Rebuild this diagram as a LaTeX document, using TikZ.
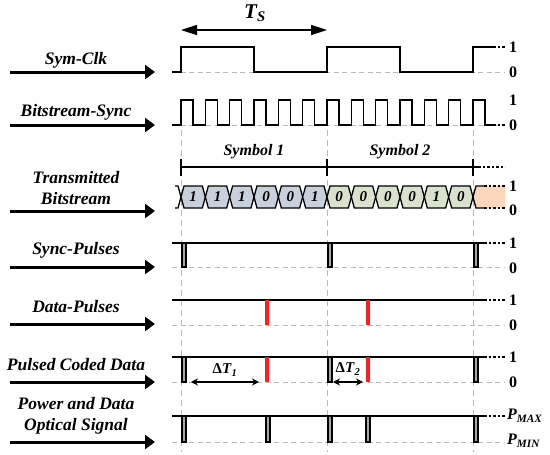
\documentclass[tikz,border=0pt]{standalone}
\usepackage{fontspec}
\setmainfont{Liberation Serif}
\usetikzlibrary{positioning, arrows.meta, calc}

\definecolor{symone}{RGB}{200,208,220}
\definecolor{symtwo}{RGB}{216,226,204}
\definecolor{symnext}{RGB}{251,213,188}
\definecolor{pulsered}{RGB}{255,30,30}

\begin{document}
\begin{tikzpicture}[
    x=1pt, y=-1pt,
    wave/.style={line width=1.6pt},
    tail/.style={line width=1.6pt, dash pattern=on 2.5pt off 2pt},
    zeroline/.style={gray!55, line width=0.9pt, dash pattern=on 5pt off 3.5pt},
    guide/.style={gray!55, line width=0.9pt, dash pattern=on 6pt off 4pt},
    inarrow/.style={-{Triangle[length=10pt, width=14pt]}, line width=3pt},
    tsarrow/.style={{Triangle[length=16pt, width=10pt]}-{Triangle[length=16pt, width=10pt]}, line width=1.5pt},
    dtarrow/.style={{Stealth[length=7pt, width=7pt]}-{Stealth[length=7pt, width=7pt]}, line width=1.4pt},
    sigtext/.style={font=\fontsize{17.5}{21}\selectfont\bfseries\itshape, align=center},
    symtext/.style={font=\fontsize{16}{18}\selectfont\bfseries\itshape},
    levtext/.style={font=\fontsize{16}{18}\selectfont\bfseries, anchor=west, inner sep=0pt},
    bit/.style={font=\fontsize{15}{17}\selectfont\bfseries\itshape},
    hexbit/.style={line width=1.3pt, line join=miter},
    pulse/.style={draw=black, fill=gray!70, line width=1.2pt},
    redpulse/.style={pulsered, line width=3.5pt},
]
\useasboundingbox (0,0) rectangle (550,455);

\def\bw{24.333}

% Input labels and arrows
\foreach \n/\t/\ly/\ay in {clk/Sym-Clk/60/72, sync/Bitstream-Sync/112/125,
    bits/{Transmitted\\Bitstream}/188/211, spulse/Sync-Pulses/250/267,
    dpulse/Data-Pulses/307/324, coded/Pulsed Coded Data/365/382,
    optic/{Power and Data\\Optical Signal}/416/442}
{
    \node[sigtext] (lbl-\n) at (76,\ly) {\t};
    \coordinate (in-\n) at (10,\ay);
    \coordinate (out-\n) at (155,\ay);
    \draw[inarrow] (in-\n) -- (out-\n);
}

% Symbol period
\coordinate (ts-a) at (181,30);
\coordinate (ts-b) at (327,30);
\draw[tsarrow] (ts-a) -- (ts-b);
\node[font=\fontsize{21}{23}\selectfont\bfseries\itshape] (ts) at (255,13) {T\textsubscript{S}};

% Guides
\foreach \x in {181,327,473} \draw[guide] (\x,130) -- (\x,452);

% Sym-Clk
\draw[zeroline] (172,72) -- (505,72);
\draw[wave] (172,72) -- (181,72) -- (181,47) -- (254,47) -- (254,72) -- (327,72) -- (327,47)
    -- (400,47) -- (400,72) -- (473,72) -- (473,47) -- (493,47);
\draw[tail] (493,47) -- (505,47);
\node[levtext] (one-clk) at (509,47) {1};
\node[levtext] (zero-clk) at (509,72) {0};

% Bitstream-Sync
\draw[zeroline] (172,125) -- (505,125);
\draw[wave] (172,125) foreach \k in {0,...,12} {
    -- ({181+\k*\bw},125) -- ({181+\k*\bw},100) -- ({193+\k*\bw},100) -- ({193+\k*\bw},125)
} -- (493,125);
\draw[tail] (493,125) -- (505,125);
\node[levtext] (one-sync) at (509,100) {1};
\node[levtext] (zero-sync) at (509,125) {0};

% Symbol bracket
\draw[line width=1.2pt] (181,167) -- (478,167);
\draw[tail, line width=1.2pt] (478,167) -- (505,167);
\foreach \x in {181,327,473} \draw[line width=1.2pt] (\x,159) -- (\x,176);
\node[symtext] (sym1) at (254,152) {Symbol 1};
\node[symtext] (sym2) at (400,152) {Symbol 2};

% Transmitted bitstream
\fill[symnext] (473,197) -- (476,186) -- (505,186) -- (505,208) -- (476,208) -- cycle;
\draw[hexbit] (175,186) -- (178,186) -- (181,197) -- (178,208) -- (175,208);
\foreach \b [count=\i from 0] in {1,1,1,0,0,1,0,0,0,0,1,0} {
    \pgfmathsetmacro\xa{181+\i*\bw}
    \pgfmathsetmacro\xb{\xa+\bw}
    \ifnum\i<6 \def\hc{symone}\else\def\hc{symtwo}\fi
    \draw[hexbit, fill=\hc] (\xa,197) -- ({\xa+3},186) -- ({\xb-3},186) -- (\xb,197)
        -- ({\xb-3},208) -- ({\xa+3},208) -- cycle;
    \node[bit] (bit-\i) at ({(\xa+\xb)/2},197) {\b};
}
\draw[hexbit] (484,186) -- (476,186) -- (473,197) -- (476,208) -- (484,208);
\draw[tail] (484,186) -- (505,186);
\draw[tail] (484,208) -- (505,208);
\node[levtext] (one-bits) at (509,186) {1};
\node[levtext] (zero-bits) at (509,210) {0};

% Sync-Pulses
\draw[zeroline] (172,267) -- (505,267);
\draw[wave] (172,243) -- (484,243);
\draw[tail] (484,243) -- (505,243);
\foreach \x in {182,328,474} \draw[pulse] (\x,243) rectangle ({\x+4},267);
\node[levtext] (one-spulse) at (509,243) {1};
\node[levtext] (zero-spulse) at (509,268) {0};

% Data-Pulses
\draw[zeroline] (172,325) -- (505,325);
\draw[wave] (172,300) -- (484,300);
\draw[tail] (484,300) -- (505,300);
\foreach \x in {267,368} \draw[redpulse] (\x,300) -- (\x,325);
\node[levtext] (one-dpulse) at (509,300) {1};
\node[levtext] (zero-dpulse) at (509,325) {0};

% Pulsed Coded Data
\draw[zeroline] (172,382) -- (505,382);
\draw[wave] (172,357) -- (484,357);
\draw[tail] (484,357) -- (505,357);
\foreach \x in {182,328,474} \draw[pulse] (\x,357) rectangle ({\x+4},382);
\foreach \x in {267,368} \draw[redpulse] (\x,357) -- (\x,382);
\coordinate (dt1-a) at (191,382);
\coordinate (dt1-b) at (259,382);
\draw[dtarrow] (dt1-a) -- (dt1-b);
\node[font=\fontsize{15}{17}\selectfont\bfseries] (dt1) at (225,370) {Δ\textit{T}\textsubscript{\textit{1}}};
\coordinate (dt2-a) at (333,382);
\coordinate (dt2-b) at (363,382);
\draw[dtarrow] (dt2-a) -- (dt2-b);
\node[font=\fontsize{15}{17}\selectfont\bfseries] (dt2) at (348,369) {Δ\textit{T}\textsubscript{\textit{2}}};
\node[levtext] (one-coded) at (509,357) {1};
\node[levtext] (zero-coded) at (509,382) {0};

% Power and Data Optical Signal
\draw[zeroline] (172,442) -- (505,442);
\draw[wave] (172,416) -- (484,416);
\draw[tail] (484,416) -- (505,416);
\foreach \x in {182,266,328,366,474} \draw[pulse] (\x,416) rectangle ({\x+4},442);
\node[levtext, font=\fontsize{16}{18}\selectfont\bfseries\itshape] (pmax) at (507,416) {P\textsubscript{MAX}};
\node[levtext, font=\fontsize{16}{18}\selectfont\bfseries\itshape] (pmin) at (507,441) {P\textsubscript{MIN}};

\end{tikzpicture}
\end{document}
